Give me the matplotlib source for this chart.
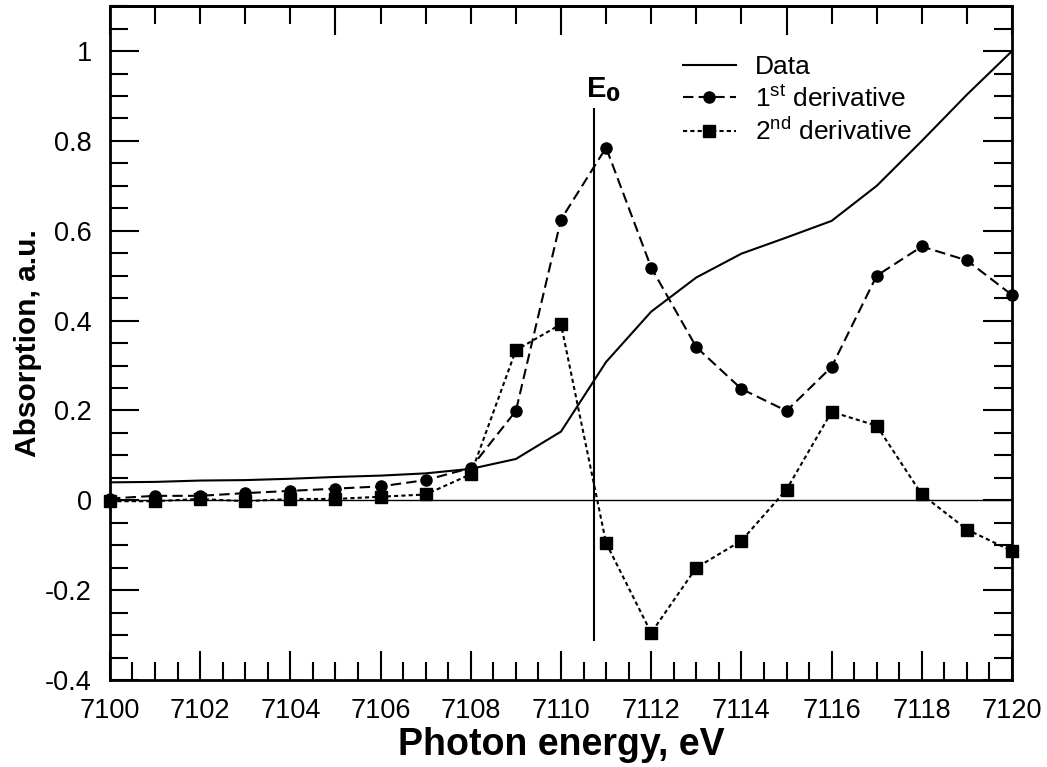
import numpy as np
import matplotlib
matplotlib.use("Agg")
import matplotlib.pyplot as plt
from matplotlib.ticker import MultipleLocator, NullFormatter

plt.rcParams['font.family'] = ['Liberation Sans', 'DejaVu Sans']

energy = np.arange(7100, 7121)
data = [0.040, 0.041, 0.044, 0.045, 0.048, 0.052, 0.055, 0.060, 0.070, 0.092,
        0.153, 0.308, 0.420, 0.496, 0.549, 0.585, 0.622, 0.700, 0.800, 0.903, 1.000]
deriv1 = [0.004, 0.010, 0.010, 0.016, 0.021, 0.026, 0.031, 0.045, 0.072, 0.199,
          0.625, 0.785, 0.518, 0.341, 0.248, 0.199, 0.297, 0.500, 0.565, 0.534, 0.457]
deriv2 = [-0.002, -0.002, 0.003, -0.002, 0.003, 0.003, 0.008, 0.013, 0.058, 0.334,
          0.392, -0.095, -0.295, -0.150, -0.090, 0.024, 0.197, 0.166, 0.013, -0.065, -0.113]
e0 = 7110.74
e0_span = [-0.31, 0.87]

fig = plt.figure(figsize=(10.47, 7.67), dpi=100)
ax = fig.add_axes([0.105, 0.1134, 0.8616, 0.8786])

ax.axhline(0, color='black', lw=1.0, zorder=1)
ax.plot([e0, e0], e0_span, color='black', lw=1.5, zorder=2)
ax.text(e0 + 0.2, 0.915, 'E$_\\mathbf{0}$', fontsize=21, fontweight='bold',
        ha='center', va='center')

ax.plot(energy, data, '-', color='black', lw=1.5, label='Data', zorder=3)
ax.plot(energy, deriv1, color='black', lw=1.5, ls=(0, (5, 2.5)), marker='o', ms=8,
        label='1$^{\\mathregular{st}}$ derivative', zorder=4, clip_on=False)
ax.plot(energy, deriv2, color='black', lw=1.5, ls=(0, (2, 1.5)), marker='s', ms=8.5,
        label='2$^{\\mathregular{nd}}$ derivative', zorder=4, clip_on=False)

ax.set_xlim(7100, 7120)
ax.set_ylim(-0.4, 1.1)

ax.xaxis.set_major_locator(MultipleLocator(2))
ax.xaxis.set_minor_locator(MultipleLocator(0.5))
ax.yaxis.set_minor_locator(MultipleLocator(0.05))
ax.set_yticks(np.arange(-0.4, 1.01, 0.2))
ax.set_yticklabels(['-0.4', '-0.2', '0', '0.2', '0.4', '0.6', '0.8', '1'])

ax.tick_params(which='both', direction='in', width=1.5, labelsize=19.5,
               left=True, right=True, bottom=True, top=False, pad=13)
ax.tick_params(which='major', length=21)
ax.tick_params(which='minor', length=13)

top = ax.secondary_xaxis('top')
top.xaxis.set_major_locator(MultipleLocator(5))
top.xaxis.set_minor_locator(MultipleLocator(1))
top.xaxis.set_major_formatter(NullFormatter())
top.tick_params(which='both', direction='in', width=1.5)
top.tick_params(which='major', length=21)
top.tick_params(which='minor', length=13)
top.spines['top'].set_linewidth(2)

for s in ax.spines.values():
    s.set_linewidth(2)

ax.set_xlabel('Photon energy, eV', fontsize=27, fontweight='bold')
ax.xaxis.set_label_coords(0.5, -0.07)
ax.set_ylabel('Absorption, a.u.', fontsize=21.5, fontweight='bold')
ax.yaxis.set_label_coords(-0.075, 0.5)

leg = ax.legend(loc='upper left', bbox_to_anchor=(0.635, 0.927), frameon=False,
                fontsize=19, handlelength=2.0, labelspacing=0.22, handletextpad=0.75,
                borderpad=0, borderaxespad=0)

fig.savefig('out.png', dpi=100)
